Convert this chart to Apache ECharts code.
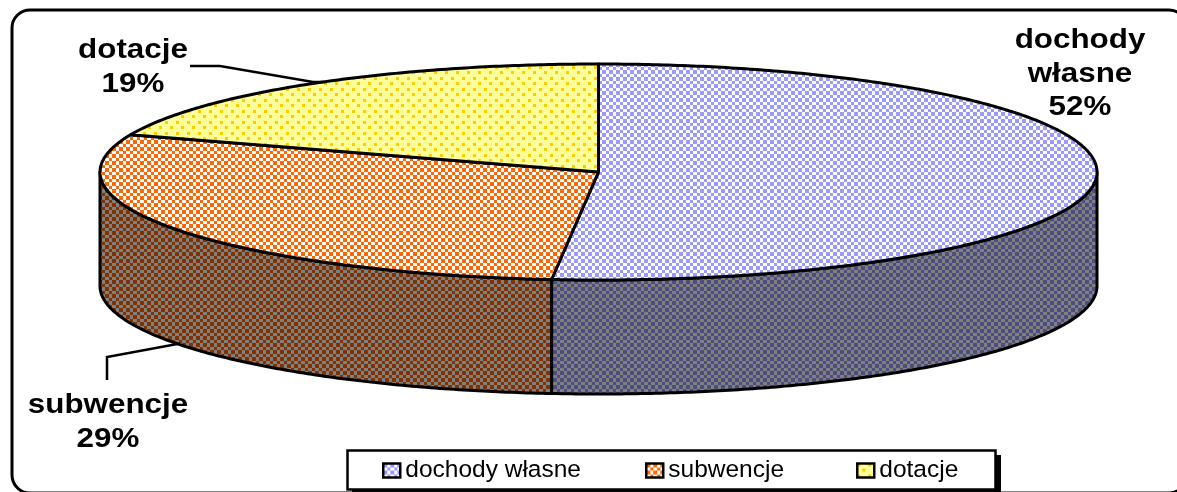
<!DOCTYPE html>
<html><head><meta charset="utf-8">
<style>html,body{margin:0;padding:0;background:#fff;overflow:hidden}#c{width:1177px;height:492px}</style>
<script src="https://cdn.jsdelivr.net/npm/echarts@6/dist/echarts.min.js"></script>
</head><body><div id="c"></div>
<script>
const categories = ['dochody własne', 'subwencje', 'dotacje'];
const labelLines = [['dochody', 'własne'], ['subwencje'], ['dotacje']];
const values = [51.5, 29.1, 19.4];

const pie = {cx: 598.5, cy: 172, rx: 498.5, ry: 108, depth: 114};
const labelPos = [{x: 1080, y: 24}, {x: 108, y: 389}, {x: 133, y: 34}];
const leaders = [null, [[107, 380], [107, 357], [180, 343.5]], [[190, 66], [220, 66], [313, 82], [327, 82]]];
const legendLeft = [377, 640, 851];

function checker(bg, fg, cells) {
  const n = cells.reduce((a, b) => a + b, 0);
  const cv = document.createElement('canvas'); cv.width = cv.height = n;
  const g = cv.getContext('2d'); g.fillStyle = bg; g.fillRect(0, 0, n, n); g.fillStyle = fg;
  let y = 0;
  cells.forEach((h, r) => { let x = 0; cells.forEach((w, c) => { if ((r + c) % 2) g.fillRect(x, y, w, h); x += w; }); y += h; });
  return cv;
}
function dots(bg, fg, size, s) {
  const cv = document.createElement('canvas'); cv.width = cv.height = size;
  const g = cv.getContext('2d'); g.fillStyle = bg; g.fillRect(0, 0, size, size); g.fillStyle = fg;
  g.fillRect(0, 0, s, s); g.fillRect(Math.floor(size / 2), Math.floor(size / 2), s, s);
  return cv;
}
const patt = c => ({image: c, repeat: 'repeat'});
const cells = [4, 3];
const topFill = [
  patt(checker('#9999FF', '#FFFFFF', cells)),
  patt(checker('#FF6600', '#FFFFFF', cells)),
  patt(dots('#FFFF99', '#FFCC00', 11, 3))
];
const sideFill = [
  patt(checker('#4D4D80', '#808080', cells)),
  patt(checker('#803300', '#808080', cells)),
  null
];

const total = values.reduce((a, b) => a + b, 0);
const pt = (a, dy) => [pie.cx + pie.rx * Math.sin(a), pie.cy - pie.ry * Math.cos(a) + (dy || 0)];
function arc(a0, a1, dy) {
  const n = Math.max(2, Math.ceil(Math.abs(a1 - a0) / 0.01)), out = [];
  for (let i = 0; i <= n; i++) out.push(pt(a0 + (a1 - a0) * i / n, dy));
  return out;
}

function makeRender(idx) {
  return function (params, api) {
    const v = api.value(0);
    const before = values.slice(0, idx).reduce((a, b) => a + b, 0);
    const a0 = before / total * 2 * Math.PI, a1 = (before + v) / total * 2 * Math.PI;
    const kids = [];
    const s0 = Math.max(a0, Math.PI / 2), s1 = Math.min(a1, 3 * Math.PI / 2);
    if (s1 > s0 && sideFill[idx]) {
      kids.push({type: 'polygon', shape: {points: arc(s0, s1, 0).concat(arc(s1, s0, pie.depth))},
        style: {fill: sideFill[idx], stroke: '#000', lineWidth: 3, lineJoin: 'round'}});
    }
    kids.push({type: 'polygon', shape: {points: [[pie.cx, pie.cy]].concat(arc(a0, a1, 0))},
      style: {fill: topFill[idx], stroke: '#000', lineWidth: 3, lineJoin: 'round'}});
    if (leaders[idx]) kids.push({type: 'polyline', shape: {points: leaders[idx]},
      style: {fill: null, stroke: '#000', lineWidth: 2.5}});
    kids.push({type: 'text', x: labelPos[idx].x, y: labelPos[idx].y, scaleX: 1.12, scaleY: 1,
      style: {text: labelLines[idx].concat(Math.round(v) + '%').join('\n'),
        font: 'bold 28px "Liberation Sans"', lineHeight: 33.5, fill: '#000', align: 'center', verticalAlign: 'top'}});
    return {type: 'group', children: kids};
  };
}

const chart = echarts.init(document.getElementById('c'), null, {renderer: 'canvas'});
chart.setOption({
  animation: false,
  backgroundColor: '#fff',
  graphic: [
    {type: 'rect', z: 0, shape: {x: 12, y: 10, width: 1175, height: 483, r: 18},
      style: {fill: '#fff', stroke: '#000', lineWidth: 3}},
    {type: 'rect', z: 3, shape: {x: 352, y: 455, width: 649, height: 40}, style: {fill: '#000'}},
    {type: 'rect', z: 3, shape: {x: 347.5, y: 450.5, width: 648, height: 39},
      style: {fill: '#fff', stroke: '#000', lineWidth: 2.5}}
  ],
  legend: categories.map((name, i) => ({
    left: legendLeft[i], top: 453, padding: 5, itemWidth: 17, itemHeight: 14, icon: 'rect',
    selectedMode: false, data: [name],
    textStyle: {fontFamily: '"Liberation Sans"', fontSize: 24.5, color: '#000', padding: [0, 0, 8, 0]},
    itemStyle: {borderColor: '#000', borderWidth: 2.5}
  })),
  series: categories.map((name, i) => ({
    type: 'custom', name, coordinateSystem: 'none', silent: true,
    itemStyle: {color: topFill[i]},
    data: [[values[i]]], renderItem: makeRender(i)
  }))
});
</script></body></html>
